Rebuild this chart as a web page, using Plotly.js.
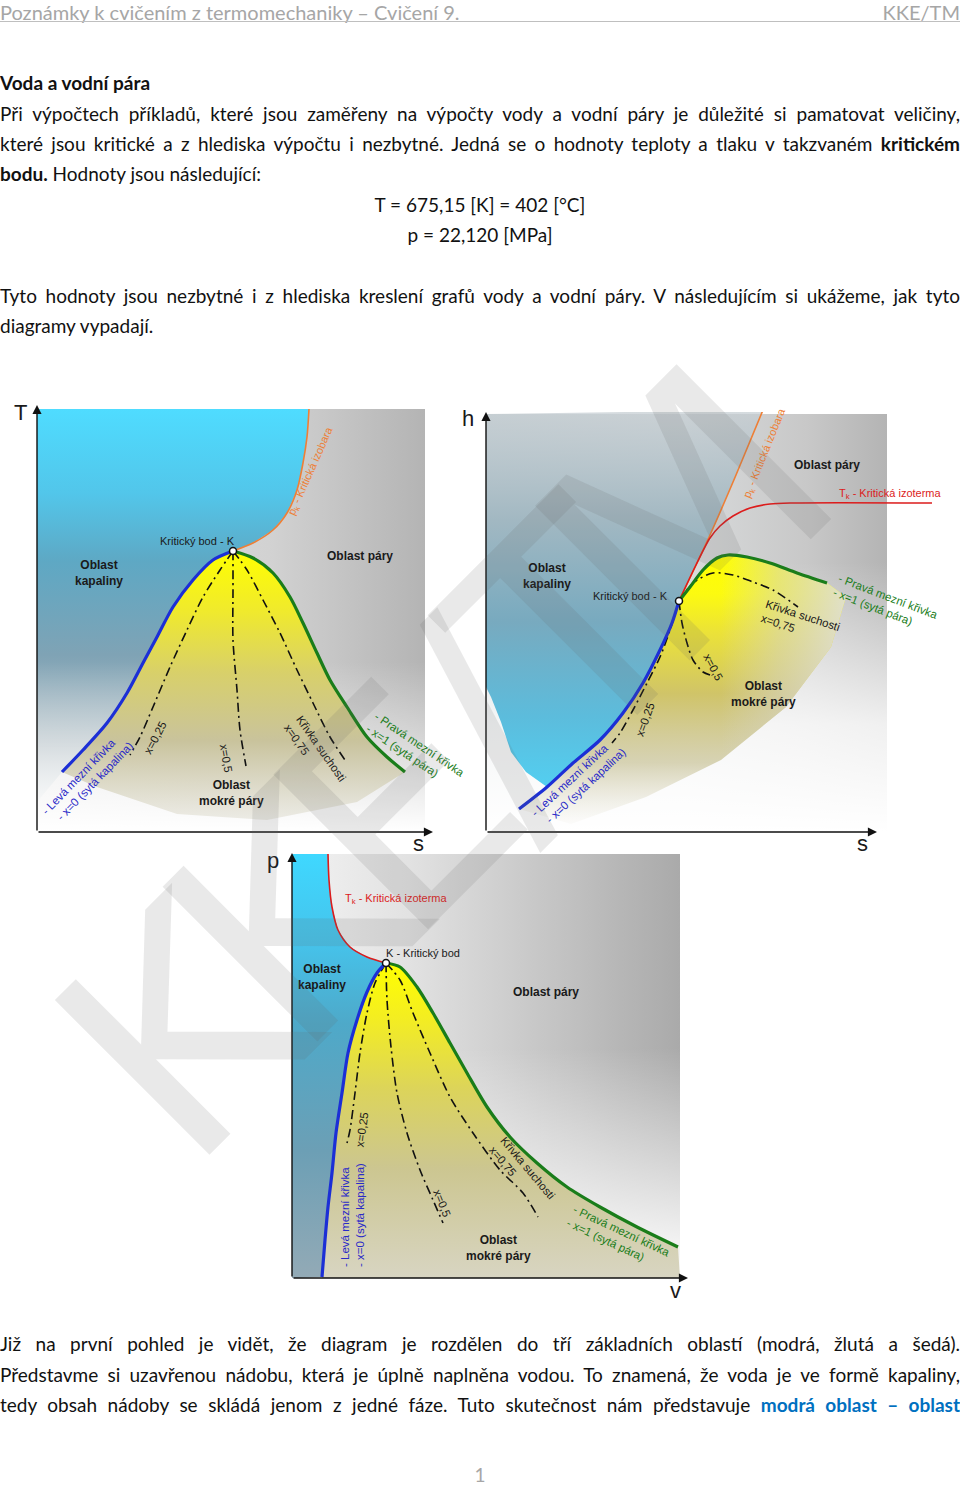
<!DOCTYPE html>
<html>
<head>
<meta charset="utf-8">
<script src="https://cdn.plot.ly/plotly-3.0.1.min.js"></script>
<style>
body{margin:0;background:#fff;}
#page{position:relative;width:960px;height:1485px;overflow:hidden;font-family:Lato,'Open Sans',sans-serif;color:#111;}
.ln{position:absolute;left:0;width:960px;height:30px;line-height:30px;font-size:19px;}
.j{text-align:justify;text-align-last:justify;}
.c{text-align:center;}
.hd{color:#a6a6a6;font-size:20px;}
#plot{position:absolute;left:0;top:0;width:960px;height:1485px;}
</style>
</head>
<body>
<div id="page">
  <div class="ln hd" style="top:-3px;">Poznámky k cvičením z termomechaniky – Cvičení 9.</div>
  <div class="ln hd" style="top:-3px;text-align:right;">KKE/TM</div>
  <div style="position:absolute;left:0;top:21px;width:960px;height:1px;background:#bfbfbf;"></div>
  <div class="ln" style="top:68px;font-weight:bold;">Voda a vodní pára</div>
  <div class="ln j" style="top:99px;">Při výpočtech příkladů, které jsou zaměřeny na výpočty vody a vodní páry je důležité si pamatovat veličiny,</div>
  <div class="ln j" style="top:129px;">které jsou kritické a z hlediska výpočtu i nezbytné. Jedná se o hodnoty teploty a tlaku v takzvaném <b>kritickém</b></div>
  <div class="ln" style="top:159px;"><b>bodu.</b> Hodnoty jsou následující:</div>
  <div class="ln c" style="top:190px;">T = 675,15 [K] = 402 [°C]</div>
  <div class="ln c" style="top:220px;">p = 22,120 [MPa]</div>
  <div class="ln j" style="top:281px;">Tyto hodnoty jsou nezbytné i z hlediska kreslení grafů vody a vodní páry. V následujícím si ukážeme, jak tyto</div>
  <div class="ln" style="top:311px;">diagramy vypadají.</div>
  <div class="ln j" style="top:1329px;">Již na první pohled je vidět, že diagram je rozdělen do tří základních oblastí (modrá, žlutá a šedá).</div>
  <div class="ln j" style="top:1360px;">Představme si uzavřenou nádobu, která je úplně naplněna vodou. To znamená, že voda je ve formě kapaliny,</div>
  <div class="ln j" style="top:1390px;">tedy obsah nádoby se skládá jenom z jedné fáze. Tuto skutečnost nám představuje <b style="color:#0070c0;">modrá oblast – oblast</b></div>
  <div class="ln c hd" style="top:1460px;font-size:19px;">1</div>
  <div id="plot"></div>
</div>
<script>
// ---------- T-s diagram (arbitrary units) ----------
const TS_FRAME_S = [0, 388];
const TS_FRAME_T = [0, 423];
const TS_K = [196, 281];
const TS_LEFT_S = [25, 46, 70, 90, 106, 120, 136, 156, 176, 196];
const TS_LEFT_T = [60, 82, 109, 139, 169, 195, 225, 252, 272, 281];
const TS_RIGHT_S = [196, 216, 236, 253, 266, 280, 293, 310, 330, 350, 368];
const TS_RIGHT_T = [281, 274, 259, 235, 209, 179, 152, 125, 95, 75, 60];
const TS_ISOBAR_S = [196, 216, 236, 250, 260, 266, 270, 272];
const TS_ISOBAR_T = [281, 289, 302, 319, 342, 369, 395, 423];
const TS_X025_S = [196, 183, 166, 150, 133, 116, 103, 93];
const TS_X025_T = [281, 262, 235, 202, 165, 125, 95, 77];
const TS_X050_S = [196, 196, 196, 200, 203, 209];
const TS_X050_T = [281, 242, 192, 142, 102, 66];
const TS_X075_S = [196, 210, 226, 243, 260, 276, 293, 308];
const TS_X075_T = [281, 262, 232, 199, 162, 129, 95, 72];
const TS_WET_BASE_S = [320, 230, 140, 60];
const TS_WET_BASE_T = [30, 12, 18, 45];

// ---------- h-s diagram ----------
const HS_FRAME_S = [0, 401];
const HS_FRAME_H = [0, 418];
const HS_K = [193, 231];
const HS_LEFT_S = [33, 61, 87, 114, 137, 157, 174, 186, 193];
const HS_LEFT_H = [23, 45, 69, 92, 119, 149, 182, 209, 231];
const HS_RIGHT_S = [193, 204, 217, 231, 242, 261, 284, 311, 341];
const HS_RIGHT_H = [231, 245, 262, 274, 277, 275, 269, 259, 249];
const HS_ISOTHERM_S = [193, 210, 224, 234, 247, 264, 284, 307, 446];
const HS_ISOTHERM_H = [231, 267, 294, 306, 316, 324, 328, 329, 329];
const HS_ISOBAR_S = [193, 210, 224, 250, 277];
const HS_ISOBAR_H = [231, 267, 297, 357, 422];
const HS_X025_S = [193, 184, 174, 161, 147, 134, 126];
const HS_X025_H = [231, 202, 175, 149, 122, 99, 89];
const HS_X050_S = [193, 196, 201, 207, 217, 224];
const HS_X050_H = [231, 209, 189, 172, 160, 157];
const HS_X075_S = [193, 207, 227, 247, 267, 287, 312];
const HS_X075_H = [231, 249, 259, 257, 250, 242, 225];
const HS_BLUE_EDGE_S = [40, 25, 15, 5, 0];
const HS_BLUE_EDGE_H = [60, 80, 110, 135, 145];
const HS_WET_BASE_S = [360, 345, 300, 235, 160, 85];
const HS_WET_BASE_H = [235, 185, 125, 72, 35, 8];

// ---------- p-v diagram ----------
const PV_FRAME_V = [0, 388];
const PV_FRAME_P = [0, 424];
const PV_K = [94, 315];
const PV_LEFT_V = [30, 33, 36, 40, 44, 50, 56, 65, 75, 85, 94];
const PV_LEFT_P = [1, 38, 71, 105, 145, 185, 225, 258, 286, 305, 315];
const PV_RIGHT_V = [94, 108, 125, 141, 158, 175, 195, 218, 245, 275, 308, 345, 386];
const PV_RIGHT_P = [315, 311, 291, 265, 235, 205, 171, 141, 115, 91, 71, 51, 31];
const PV_ISOTHERM_V = [36, 37, 40, 46, 58, 75, 94];
const PV_ISOTHERM_P = [424, 398, 371, 348, 331, 321, 315];
const PV_X025_V = [94, 83, 75, 68, 63, 58, 55];
const PV_X025_P = [315, 295, 265, 225, 185, 148, 135];
const PV_X050_V = [94, 95, 99, 105, 115, 128, 141, 151];
const PV_X050_P = [315, 278, 231, 185, 145, 108, 78, 55];
const PV_X075_V = [94, 108, 121, 138, 158, 181, 208, 231, 246];
const PV_X075_P = [315, 298, 265, 225, 181, 145, 108, 85, 61];
const PV_WET_BASE_V = [388, 300, 30];
const PV_WET_BASE_P = [0, 0, 0];

// ---------- watermark letters ----------
const WM_LETTERS = ['K', 'K', 'E', '/', 'T', 'M'];

// ---------- helpers ----------
const rev = a => a.slice().reverse();
function rectX(f){ return [f[0], f[1], f[1], f[0], f[0]]; }
function rectY(f){ return [f[0], f[0], f[1], f[1], f[0]]; }
function fillT(xs, ys, n, type, start, stop, cs){
  return {type:'scatter', mode:'lines', x:xs, y:ys, xaxis:'x'+n, yaxis:'y'+n,
    fill:'toself', fillgradient:{type:type, start:start, stop:stop, colorscale:cs},
    line:{width:0}, hoverinfo:'skip'};
}
function lineT(xs, ys, n, color, width, dash){
  return {type:'scatter', mode:'lines', x:xs, y:ys, xaxis:'x'+n, yaxis:'y'+n,
    line:{color:color, width:width, dash:dash||'solid', shape:'spline', smoothing:0.8}, hoverinfo:'skip'};
}
function pointT(k, n){
  return {type:'scatter', mode:'markers', x:[k[0]], y:[k[1]], xaxis:'x'+n, yaxis:'y'+n,
    marker:{size:7, color:'#fff', line:{color:'#111', width:1.5}}, hoverinfo:'skip'};
}
const DD = '9px,4px,2px,4px';
const BLUE = '#1c2fd6', GREEN = '#1a7d1a', ORANGE = '#ee7f36', RED = '#dc1c1c';
const WHITE_FADE = [[0,'rgba(255,255,255,1)'],[1,'rgba(255,255,255,0)']];

const traces = [];
// ===== T-s =====
traces.push(fillT(rectX(TS_FRAME_S), rectY(TS_FRAME_T), '', 'horizontal', 0, 388,
  [[0,'#e2e2e2'],[0.6,'#d2d2d2'],[1,'#b4b4b4']]));
traces.push(fillT([0].concat(rev(TS_ISOBAR_S), rev(TS_LEFT_S), [0]),
  [423].concat(rev(TS_ISOBAR_T), rev(TS_LEFT_T), [30]), '', 'vertical', 0, 423,
  [[0,'#dfe3e5'],[0.2,'#b0bcc2'],[0.42,'#7fa3b5'],[0.64,'#5ea8c4'],[0.8,'#52c6ea'],[1,'#4fdcff']]));
traces.push(fillT(rectX(TS_FRAME_S), rectY([0,170]), '', 'vertical', 0, 170, WHITE_FADE));
traces.push(fillT(TS_LEFT_S.concat(TS_RIGHT_S.slice(1), TS_WET_BASE_S),
  TS_LEFT_T.concat(TS_RIGHT_T.slice(1), TS_WET_BASE_T), '', 'vertical', 10, 281,
  [[0,'rgba(222,220,208,0.5)'],[0.3,'#c9c39c'],[0.55,'#d8d06a'],[0.78,'#f0ea2c'],[1,'#ffff00']]));
traces.push(lineT(TS_X025_S, TS_X025_T, '', '#111', 1.6, DD));
traces.push(lineT(TS_X050_S, TS_X050_T, '', '#111', 1.6, DD));
traces.push(lineT(TS_X075_S, TS_X075_T, '', '#111', 1.6, DD));
traces.push(lineT(TS_ISOBAR_S, TS_ISOBAR_T, '', ORANGE, 1.6));
traces.push(lineT(TS_LEFT_S, TS_LEFT_T, '', BLUE, 3.2));
traces.push(lineT(TS_RIGHT_S, TS_RIGHT_T, '', GREEN, 3.2));
traces.push(pointT(TS_K, ''));

// ===== h-s =====
traces.push(fillT(rectX(HS_FRAME_S), rectY(HS_FRAME_H), '2', 'horizontal', 0, 401,
  [[0,'#cdd4d7'],[0.5,'#d8dadb'],[0.8,'#c8c8c8'],[1,'#b4b4b4']]));
traces.push(fillT(rectX(HS_FRAME_S), rectY([0,270]), '2', 'vertical', 0, 270,
  [[0,'rgba(255,255,255,1)'],[0.4,'rgba(255,255,255,0.8)'],[1,'rgba(255,255,255,0)']]));
traces.push(fillT([0].concat(rev(HS_ISOBAR_S), rev(HS_LEFT_S).slice(0,8), HS_BLUE_EDGE_S),
  [418].concat(rev(HS_ISOBAR_H), rev(HS_LEFT_H).slice(0,8), HS_BLUE_EDGE_H), '2', 'vertical', 40, 418,
  [[0,'#52d0f2'],[0.2,'#5cbcdc'],[0.45,'#78aabf'],[0.72,'#a2b8c2'],[1,'rgba(195,204,209,0.7)']]));
traces.push(fillT(HS_LEFT_S.concat(HS_RIGHT_S.slice(1), HS_WET_BASE_S),
  HS_LEFT_H.concat(HS_RIGHT_H.slice(1), HS_WET_BASE_H), '2', 'vertical', 0, 277,
  [[0,'rgba(225,222,210,0)'],[0.25,'rgba(200,194,150,0.7)'],[0.5,'#d0c468'],[0.72,'#ebe238'],[0.86,'#fcfa10'],[1,'#ffff00']]));
// soften the right part of the wet region towards the grey vapour area
traces.push(fillT(HS_RIGHT_S.slice(3).concat(HS_WET_BASE_S.slice(0,4), [231]),
  HS_RIGHT_H.slice(3).concat(HS_WET_BASE_H.slice(0,4), [120]), '2', 'horizontal', 235, 362,
  [[0,'rgba(215,214,208,0)'],[0.45,'rgba(214,212,200,0.55)'],[1,'rgba(222,222,220,0.92)']]));
traces.push(lineT(HS_X025_S, HS_X025_H, '2', '#111', 1.6, DD));
traces.push(lineT(HS_X050_S, HS_X050_H, '2', '#111', 1.6, DD));
traces.push(lineT(HS_X075_S, HS_X075_H, '2', '#111', 1.6, DD));
traces.push(lineT(HS_ISOBAR_S, HS_ISOBAR_H, '2', ORANGE, 1.6));
traces.push(lineT(HS_ISOTHERM_S, HS_ISOTHERM_H, '2', RED, 1.6));
traces.push(lineT(HS_LEFT_S, HS_LEFT_H, '2', BLUE, 3.2));
traces.push(lineT(HS_RIGHT_S, HS_RIGHT_H, '2', GREEN, 3.2));
traces.push(pointT(HS_K, '2'));

// ===== p-v =====
traces.push(fillT(rectX(PV_FRAME_V), rectY(PV_FRAME_P), '3', 'horizontal', 0, 388,
  [[0,'#f2f2f2'],[0.3,'#e2e2e2'],[0.65,'#c6c6c6'],[1,'#aaaaaa']]));
traces.push(fillT(rectX(PV_FRAME_V), rectY([0,230]), '3', 'vertical', 0, 230, WHITE_FADE));
traces.push(fillT([0].concat(PV_ISOTHERM_V, rev(PV_LEFT_V), [0]),
  [424].concat(PV_ISOTHERM_P, rev(PV_LEFT_P), [0]), '3', 'vertical', 0, 424,
  [[0,'#93aab6'],[0.3,'#6c9fb5'],[0.6,'#4ea9c9'],[0.8,'#45c4ec'],[1,'#3fd8ff']]));
traces.push(fillT(PV_LEFT_V.concat(PV_RIGHT_V.slice(1), PV_WET_BASE_V),
  PV_LEFT_P.concat(PV_RIGHT_P.slice(1), PV_WET_BASE_P), '3', 'vertical', 0, 315,
  [[0,'#d8d5c2'],[0.35,'#ccc690'],[0.6,'#dcd45a'],[0.83,'#f4ee20'],[1,'#ffff00']]));
traces.push(lineT(PV_X025_V, PV_X025_P, '3', '#111', 1.6, DD));
traces.push(lineT(PV_X050_V, PV_X050_P, '3', '#111', 1.6, DD));
traces.push(lineT(PV_X075_V, PV_X075_P, '3', '#111', 1.6, DD));
traces.push(lineT(PV_ISOTHERM_V, PV_ISOTHERM_P, '3', RED, 1.6));
traces.push(lineT(PV_LEFT_V, PV_LEFT_P, '3', BLUE, 3.2));
traces.push(lineT(PV_RIGHT_V, PV_RIGHT_P, '3', GREEN, 3.2));
traces.push(pointT(PV_K, '3'));

// ---------- annotations ----------
const FD = 'Liberation Sans, Arial, sans-serif';
function lab(text, x, y, n, o){
  o = o || {};
  return {text:text, x:x, y:y, xref:'x'+n, yref:'y'+n, showarrow:false,
    textangle:o.a||0, align:o.align||'center', xshift:o.xs||0, yshift:o.ys||0,
    font:{family:FD, size:o.size||11.5, color:o.color||'#1a1a1a', weight:o.bold?'bold':'normal'}};
}
function arrow(x, y, n){
  return {text:'', x:x, y:y, ax:0, ay:0, xref:'x'+n, yref:'y'+n, axref:'x'+n, ayref:'y'+n,
    showarrow:true, arrowhead:2, arrowsize:1.3, arrowwidth:1.4, arrowcolor:'#111'};
}
const B = {bold:true, size:12};
const ann = [
  // T-s
  arrow(396, 0, ''), arrow(0, 427, ''),
  lab('T', 0, 427, '', {size:22, xs:-17, ys:-8}), lab('s', 396, 0, '', {size:22, xs:-15, ys:-11}),
  lab('Oblast<br>kapaliny', 62, 259, '', B),
  lab('Kritický bod - K', 160, 291, '', {size:11}),
  lab('Oblast páry', 323, 276, '', B),
  lab('p<sub>k</sub> - Kritická izobara', 274, 361, '', {a:-66, color:ORANGE, size:11}),
  lab('Oblast<br>mokré páry', 194, 39, '', B),
  lab('- Levá mezní křivka<br>  - x=0 (sytá kapalina)', 50, 54, '', {a:-46, color:'#2a2ac8', align:'left'}),
  lab('x=0,25', 118, 94, '', {a:-62}),
  lab('x=0,5', 189, 74, '', {a:80}),
  lab('Křivka suchosti<br>x=0,75', 278, 80, '', {a:55, align:'left'}),
  lab('- Pravá mezní křivka<br>- x=1 (sytá pára)', 378, 82, '', {a:34, color:GREEN, align:'left'}),
  // h-s
  arrow(391, 0, '2'), arrow(0, 420, '2'),
  lab('h', 0, 420, '2', {size:22, xs:-18, ys:-6}), lab('s', 391, 0, '2', {size:22, xs:-15, ys:-11}),
  lab('Oblast páry', 341, 367, '2', B),
  lab('p<sub>k</sub> - Kritická izobara', 279, 379, '2', {a:-68, color:ORANGE, size:11}),
  lab('T<sub>k</sub> - Kritická izoterma', 404, 338, '2', {color:RED, size:11}),
  lab('Oblast<br>kapaliny', 61, 256, '2', B),
  lab('Kritický bod - K', 144, 236, '2', {size:11}),
  lab('- Pravá mezní křivka<br>- x=1 (sytá pára)', 399, 229, '2', {a:21, color:GREEN, align:'left'}),
  lab('Křivka suchosti<br>x=0,75', 314, 210, '2', {a:18, align:'left'}),
  lab('x=0,5', 227, 165, '2', {a:62}),
  lab('Oblast<br>mokré páry', 277, 138, '2', B),
  lab('x=0,25', 159, 112, '2', {a:-70}),
  lab('- Levá mezní křivka<br>  - x=0 (sytá kapalina)', 92, 50, '2', {a:-43, color:'#2a2ac8', align:'left'}),
  // p-v
  arrow(396, 0, '3'), arrow(0, 425, '3'),
  lab('p', 0, 425, '3', {size:22, xs:-19, ys:-7}), lab('v', 396, 0, '3', {size:22, xs:-13, ys:-12}),
  lab('T<sub>k</sub> - Kritická izoterma', 104, 379, '3', {color:RED, size:11}),
  lab('K - Kritický bod', 131, 325, '3', {size:11}),
  lab('Oblast<br>kapaliny', 30, 301, '3', B),
  lab('Oblast páry', 254, 286, '3', B),
  lab('x=0,25', 70, 148, '3', {a:-82}),
  lab('- Levá mezní křivka<br>- x=0 (sytá kapalina)', 60, 63, '3', {a:-90, color:'#2a2ac8', align:'left'}),
  lab('x=0,5', 150, 75, '3', {a:68}),
  lab('Křivka suchosti<br>x=0,75', 230, 106, '3', {a:50, align:'left'}),
  lab('- Pravá mezní křivka<br>- x=1 (sytá pára)', 326, 41, '3', {a:25, color:GREEN, align:'left'}),
  lab('Oblast<br>mokré páry', 206, 30, '3', B)
];
// watermark: letters placed along a -45 degree line across the page
const WM_X = [0.196, 0.308, 0.418, 0.504, 0.598, 0.716];
const WM_Y = [0.307, 0.383, 0.455, 0.513, 0.575, 0.652];
WM_LETTERS.forEach(function(ch, i){
  ann.push({text:ch, xref:'paper', yref:'paper', x:WM_X[i], y:WM_Y[i], xanchor:'center', yanchor:'middle',
    showarrow:false, textangle:-45,
    font:{family:'DejaVu Sans, sans-serif', size:300, color:'rgba(100,100,100,0.14)'}});
});

function ax(domain, range, anchor){
  return {domain:domain, range:range, anchor:anchor, visible:false, fixedrange:true};
}
const layout = {
  width:960, height:1485, margin:{l:0, r:0, t:0, b:0},
  paper_bgcolor:'rgba(0,0,0,0)', plot_bgcolor:'rgba(0,0,0,0)', showlegend:false,
  xaxis: ax([37/960, 433/960], [0, 396], 'y'),
  yaxis: ax([653/1485, 1080/1485], [0, 427], 'x'),
  xaxis2: ax([486/960, 946/960], [0, 460], 'y2'),
  yaxis2: ax([653/1485, 1073/1485], [0, 420], 'x2'),
  xaxis3: ax([292/960, 688/960], [0, 396], 'y3'),
  yaxis3: ax([207/1485, 632/1485], [0, 425], 'x3'),
  annotations: ann
};
Plotly.newPlot('plot', traces, layout, {staticPlot:true, displayModeBar:false});
</script>
</body>
</html>
